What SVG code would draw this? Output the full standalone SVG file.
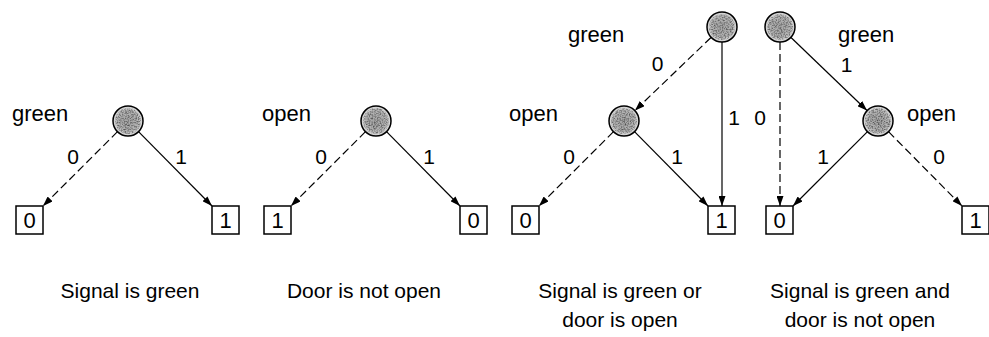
<svg xmlns="http://www.w3.org/2000/svg" width="989" height="337" viewBox="0 0 989 337">
  <defs>
    <radialGradient id="shade" cx="50%" cy="50%" r="50%">
      <stop offset="0%" stop-color="#a4a4a4"/>
      <stop offset="70%" stop-color="#b4b4b4"/>
      <stop offset="100%" stop-color="#e2e2e2"/>
    </radialGradient>
    <!-- speckled halftone look for the decision nodes -->
    <filter id="grain" x="0%" y="0%" width="100%" height="100%">
      <feTurbulence type="fractalNoise" baseFrequency="0.75" numOctaves="2" seed="7" result="noise"/>
      <feColorMatrix in="noise" type="matrix" values="0 0 0 0 0  0 0 0 0 0  0 0 0 0 0  0 0 0 1.6 -0.62" result="specks"/>
      <feComposite in="specks" in2="SourceAlpha" operator="in"/>
    </filter>
    <marker id="arrow" viewBox="0 0 10 7" refX="10" refY="3.5" markerWidth="10" markerHeight="7" markerUnits="userSpaceOnUse" orient="auto">
      <path d="M0,0 L10,3.5 L0,7 z" fill="#000" stroke="none"/>
    </marker>
  </defs>
  <style>
    .node { fill: url(#shade); stroke: #000; stroke-width: 1.5; }
    .tex { fill: #000; filter: url(#grain); opacity: 0.7; }
    .leaf { fill: #fff; stroke: #000; stroke-width: 1.5; }
    .edge { fill: none; stroke: #000; stroke-width: 1.2; marker-end: url(#arrow); }
    .lo { stroke-dasharray: 8 4; }
    text { font-family: "Liberation Sans", Arial, sans-serif; fill: #000; }
    .lbl { font-size: 22px; }
    .num { font-size: 21px; text-anchor: middle; }
    .leafnum { font-size: 22px; text-anchor: middle; }
    .cap { font-size: 21px; text-anchor: middle; }
  </style>
  <rect width="989" height="337" fill="#fff"/>

  <!-- connectors -->
  <g id="connectors">
    <!-- Signal is green -->
    <line class="edge lo" x1="117.5" y1="131.7" x2="43" y2="206"/>
    <line class="edge" x1="138.5" y1="131.7" x2="212" y2="206"/>
    <!-- Door is not open -->
    <line class="edge lo" x1="365.5" y1="131.7" x2="291" y2="206"/>
    <line class="edge" x1="386.5" y1="131.7" x2="460" y2="206"/>
    <!-- green OR open -->
    <line class="edge lo" x1="711" y1="37.5" x2="635" y2="110.5"/>
    <line class="edge" x1="722" y1="42" x2="722" y2="206"/>
    <line class="edge lo" x1="613.5" y1="131.7" x2="539" y2="206"/>
    <line class="edge" x1="634.5" y1="131.7" x2="708" y2="206"/>
    <!-- green AND NOT open -->
    <line class="edge" x1="791" y1="37.5" x2="867" y2="110.5"/>
    <line class="edge lo" x1="780" y1="42" x2="780" y2="206"/>
    <line class="edge" x1="867.5" y1="131.7" x2="793" y2="206"/>
    <line class="edge lo" x1="888.5" y1="131.7" x2="962" y2="206"/>
  </g>

  <!-- Signal is green -->
  <g id="p1-green">
    <circle class="node" cx="128" cy="121" r="15"/>
    <circle class="tex" cx="128" cy="121" r="13"/>
    <text class="lbl" x="12" y="121">green</text>
  </g>
  <g id="p1-leaf0"><rect class="leaf" x="16" y="206" width="27" height="28"/><text class="leafnum" x="29.5" y="228">0</text></g>
  <g id="p1-leaf1"><rect class="leaf" x="212" y="206" width="27" height="28"/><text class="leafnum" x="225.5" y="228">1</text></g>
  <g id="p1-labels">
    <text class="num" x="73" y="164">0</text>
    <text class="num" x="181" y="164">1</text>
    <text class="cap" x="130" y="298">Signal is green</text>
  </g>

  <!-- Door is not open -->
  <g id="p2-open">
    <circle class="node" cx="376" cy="121" r="15"/>
    <circle class="tex" cx="376" cy="121" r="13"/>
    <text class="lbl" x="262" y="121">open</text>
  </g>
  <g id="p2-leaf1"><rect class="leaf" x="264" y="206" width="27" height="28"/><text class="leafnum" x="277.5" y="228">1</text></g>
  <g id="p2-leaf0"><rect class="leaf" x="460" y="206" width="27" height="28"/><text class="leafnum" x="473.5" y="228">0</text></g>
  <g id="p2-labels">
    <text class="num" x="321" y="164">0</text>
    <text class="num" x="429" y="164">1</text>
    <text class="cap" x="364" y="298">Door is not open</text>
  </g>

  <!-- Signal is green or door is open -->
  <g id="p3-green">
    <circle class="node" cx="722" cy="27" r="15"/>
    <circle class="tex" cx="722" cy="27" r="13"/>
    <text class="lbl" x="568" y="42">green</text>
  </g>
  <g id="p3-open">
    <circle class="node" cx="624" cy="121" r="15"/>
    <circle class="tex" cx="624" cy="121" r="13"/>
    <text class="lbl" x="509" y="121">open</text>
  </g>
  <g id="p3-leaf0"><rect class="leaf" x="512" y="206" width="27" height="28"/><text class="leafnum" x="525.5" y="228">0</text></g>
  <g id="p3-leaf1"><rect class="leaf" x="708" y="206" width="27" height="28"/><text class="leafnum" x="721.5" y="228">1</text></g>
  <g id="p3-labels">
    <text class="num" x="657.5" y="71">0</text>
    <text class="num" x="734" y="125">1</text>
    <text class="num" x="569" y="164">0</text>
    <text class="num" x="677" y="164">1</text>
    <text class="cap" x="620" y="298">Signal is green or</text>
    <text class="cap" x="620" y="327">door is open</text>
  </g>

  <!-- Signal is green and door is not open -->
  <g id="p4-green">
    <circle class="node" cx="780" cy="27" r="15"/>
    <circle class="tex" cx="780" cy="27" r="13"/>
    <text class="lbl" x="838" y="42">green</text>
  </g>
  <g id="p4-open">
    <circle class="node" cx="878" cy="121" r="15"/>
    <circle class="tex" cx="878" cy="121" r="13"/>
    <text class="lbl" x="907" y="121">open</text>
  </g>
  <g id="p4-leaf0"><rect class="leaf" x="766" y="206" width="27" height="28"/><text class="leafnum" x="779.5" y="228">0</text></g>
  <g id="p4-leaf1"><rect class="leaf" x="962" y="206" width="27" height="28"/><text class="leafnum" x="975.5" y="228">1</text></g>
  <g id="p4-labels">
    <text class="num" x="846.5" y="72">1</text>
    <text class="num" x="760" y="125">0</text>
    <text class="num" x="823" y="164">1</text>
    <text class="num" x="939" y="164">0</text>
    <text class="cap" x="860" y="298">Signal is green and</text>
    <text class="cap" x="860" y="327">door is not open</text>
  </g>
</svg>
